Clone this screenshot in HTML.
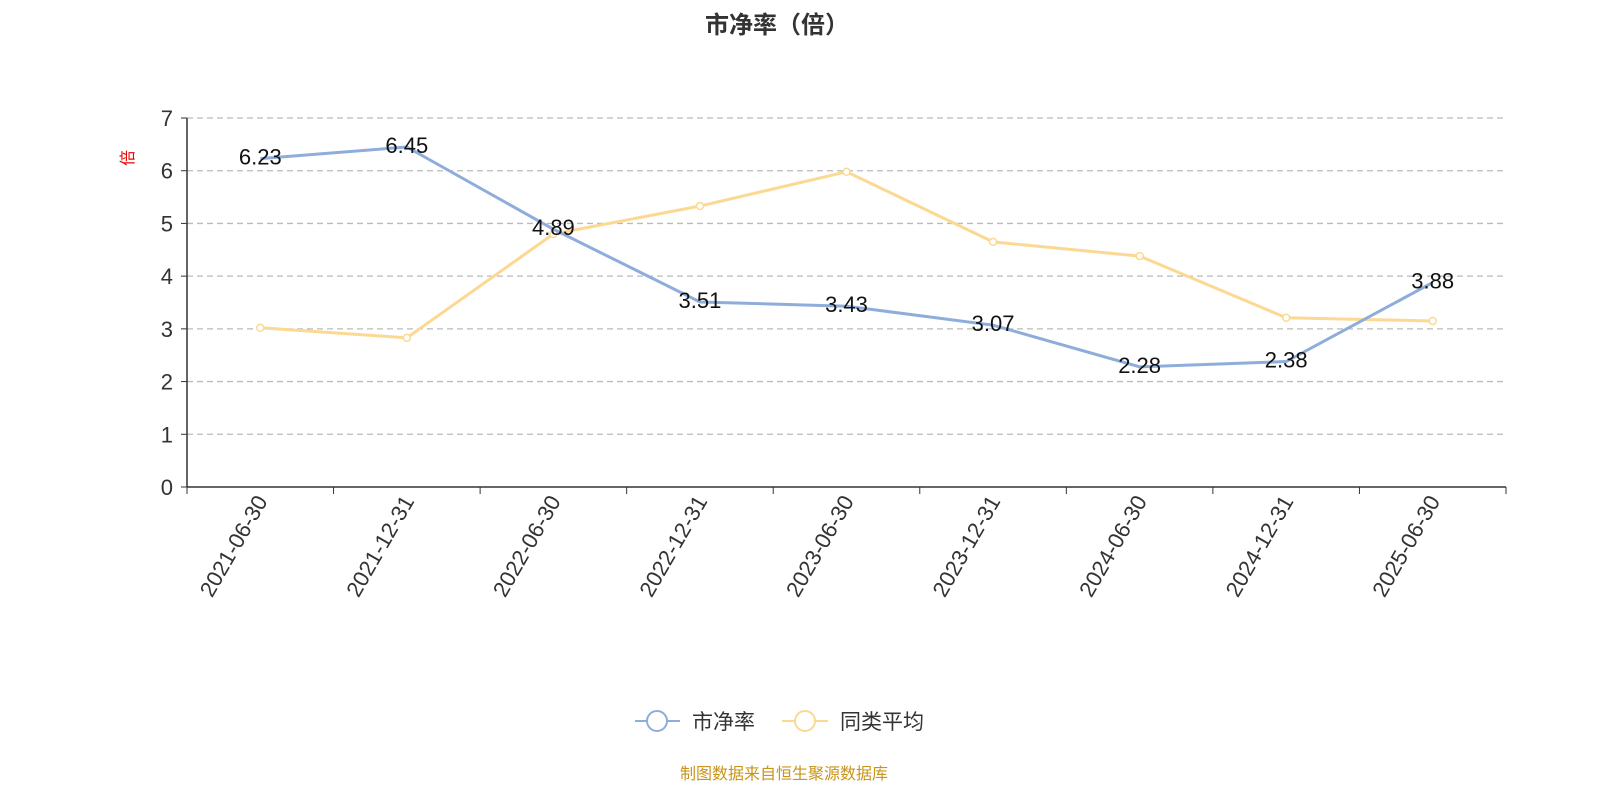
<!DOCTYPE html>
<html><head><meta charset="utf-8"><style>
body{margin:0;background:#fff;width:1600px;height:800px;overflow:hidden;font-family:"Liberation Sans","Noto Sans CJK SC",sans-serif;}
</style></head><body>
<svg id="chart" width="1600" height="800" xmlns="http://www.w3.org/2000/svg">
<text x="777" y="33" text-anchor="middle" font-size="24" font-weight="bold" fill="#333" font-family="Liberation Sans, Noto Sans CJK SC, sans-serif">市净率（倍）</text>
<text transform="translate(133,158) rotate(-90)" text-anchor="middle" font-size="16" fill="#e00" font-family="Noto Sans CJK SC, sans-serif">倍</text>
<g id="grid"></g><g id="axes"></g><g id="series"></g>
<g>
<g>
<line x1="635" y1="721" x2="680" y2="721" stroke="#8eaddb" stroke-width="2"/>
<circle cx="657" cy="721" r="10" fill="#fff" stroke="#8eaddb" stroke-width="2"/>
<text x="692" y="729" font-size="21" fill="#333" font-family="Noto Sans CJK SC, sans-serif">市净率</text></g>
<g>
<line x1="782" y1="721" x2="828" y2="721" stroke="#fbd993" stroke-width="2"/>
<circle cx="805" cy="721" r="10" fill="#fff" stroke="#fbd993" stroke-width="2"/>
<text x="840" y="729" font-size="21" fill="#333" font-family="Noto Sans CJK SC, sans-serif">同类平均</text></g>
</g>
<text x="784" y="779" text-anchor="middle" font-size="16" fill="#c8941a" font-family="Noto Sans CJK SC, sans-serif">制图数据来自恒生聚源数据库</text>
</svg>
<script>
const categories=["2021-06-30","2021-12-31","2022-06-30","2022-12-31","2023-06-30","2023-12-31","2024-06-30","2024-12-31","2025-06-30"];
const pbValues=[6.23,6.45,4.89,3.51,3.43,3.07,2.28,2.38,3.88];
const peerAvg=[3.02,2.83,4.80,5.33,5.98,4.65,4.38,3.21,3.15];
const yTicks=[0,1,2,3,4,5,6,7];
const NS="http://www.w3.org/2000/svg";
const X0=187,X1=1506,Y0=487,Y7=118;
const band=(X1-X0)/categories.length;
const xs=i=>X0+band*(i+0.5);
const ys=v=>Y0-(Y0-Y7)*v/7;
function mk(tag,attrs,parent){const e=document.createElementNS(NS,tag);for(const k in attrs)e.setAttribute(k,attrs[k]);parent.appendChild(e);return e;}
const grid=document.getElementById('grid'),axes=document.getElementById('axes'),series=document.getElementById('series');
yTicks.forEach(t=>{
 if(t>0){const g=mk('line',{x1:X0,x2:X1,y1:ys(t),y2:ys(t),stroke:'#bbb','stroke-dasharray':'6,4','stroke-width':1.3},grid);
 
 }
 mk('line',{x1:X0-6,x2:X0,y1:ys(t),y2:ys(t),stroke:'#333'},axes);
 const l=mk('text',{x:X0-14,y:ys(t)+8,'text-anchor':'end','font-size':22,fill:'#333'},axes);l.textContent=t;
 
 
});
mk('line',{x1:X0,x2:X0,y1:Y7,y2:Y0,stroke:'#333','stroke-width':1.5},axes);
mk('line',{x1:X0,x2:X1,y1:Y0,y2:Y0,stroke:'#333','stroke-width':1.5},axes);
for(let i=0;i<=categories.length;i++)mk('line',{x1:X0+band*i,x2:X0+band*i,y1:Y0,y2:Y0+7,stroke:'#333'},axes);
categories.forEach((c,i)=>{
 const t=mk('text',{transform:`translate(${xs(i)+8},${Y0+14}) rotate(-60)`,'text-anchor':'end','font-size':22,fill:'#333'},axes);t.textContent=c;
 
 
});
function drawSeries(vals,color,name,markers,labels){
 const p=mk('polyline',{points:vals.map((v,i)=>xs(i)+','+ys(v)).join(' '),fill:'none',stroke:color,'stroke-width':3},series);
 
 
 vals.forEach((v,i)=>{
  if(markers){const c=mk('circle',{cx:xs(i),cy:ys(v),r:3.5,fill:'#fff',stroke:color,'stroke-width':1.5},series);
  
  }
  if(labels){const t=mk('text',{x:xs(i),y:ys(v)+6,'text-anchor':'middle','font-size':22,fill:'#111'},series);t.textContent=v.toFixed(2);
  
  }
 });
}
drawSeries(peerAvg,'#fbd993','peer-avg',true,false);
drawSeries(pbValues,'#8eaddb','pb',false,true);
</script>
</body></html>
